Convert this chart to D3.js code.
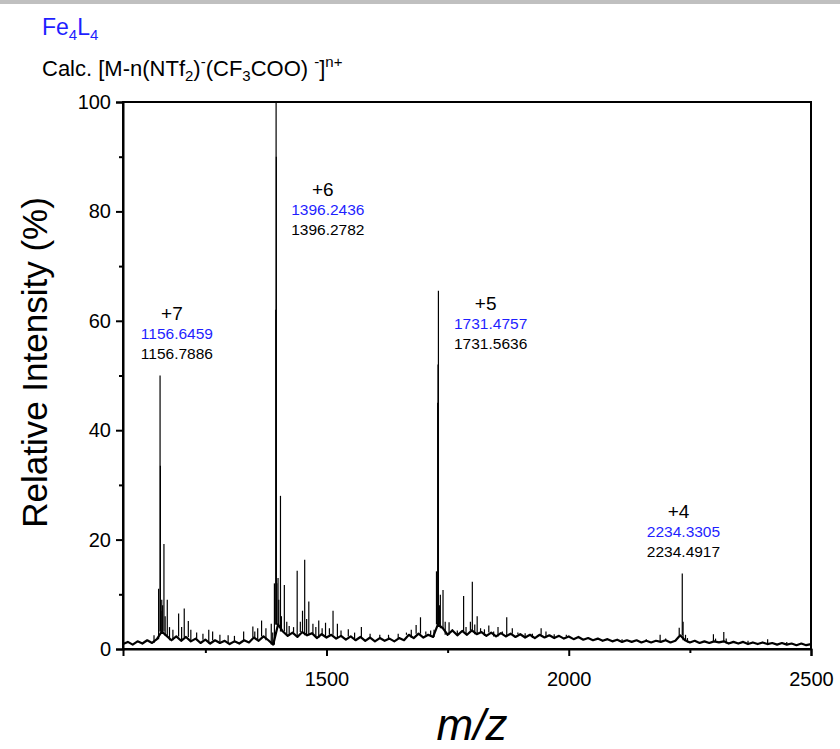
<!DOCTYPE html>
<html>
<head>
<meta charset="utf-8">
<script src="https://cdn.jsdelivr.net/npm/d3@7"></script>
<style>
  body { margin: 0; background: #fff; }
  text { font-family: 'Liberation Sans', Arial, sans-serif; }
</style>
</head>
<body>
<div id="chart"></div>
<script>
// baseline (noise floor) sampled every 10 m/z from 1080 to 2500, in %
const baseMz = d3.range(1080, 2501, 10);
const baseInt = [
  0.9, 1.3, 0.8, 1.4, 1.0, 1.6, 1.1, 1.8, 3.2, 2.4,
  1.6, 2.3, 1.5, 2.2, 1.4, 1.9, 1.1, 1.7, 1.0, 1.6,
  1.1, 1.5, 0.9, 1.4, 1.0, 1.6, 1.2, 2.1, 1.5, 2.3,
  1.6, 0.8, 4.5, 3.2, 2.4, 3.0, 2.2, 3.1, 2.5, 2.9,
  2.0, 2.7, 2.1, 2.6, 1.9, 2.4, 1.7, 2.3, 1.6, 2.2,
  1.5, 2.1, 1.4, 2.0, 1.5, 1.9, 1.4, 2.0, 1.6, 2.6,
  2.0, 2.8, 2.1, 2.6, 2.2, 4.5, 3.8, 2.6, 3.4, 2.5,
  3.3, 2.6, 3.4, 2.7, 3.1, 2.4, 3.0, 2.3, 2.9, 2.3,
  2.8, 2.2, 2.7, 2.1, 2.6, 2.0, 2.6, 2.1, 2.5, 2.0,
  2.4, 1.9, 2.3, 1.8, 2.2, 1.7, 2.0, 1.6, 1.9, 1.5,
  1.8, 1.4, 1.7, 1.3, 1.6, 1.3, 1.6, 1.2, 1.5, 1.2,
  1.5, 1.3, 1.6, 1.2, 1.5, 2.5, 1.6, 1.2, 1.5, 1.1,
  1.4, 1.1, 1.4, 1.2, 1.4, 1.0, 1.3, 1.0, 1.3, 0.9,
  1.2, 0.9, 1.2, 0.9, 1.1, 0.8, 1.1, 0.8, 1.0, 0.7,
  1.0, 0.7, 0.9
];

// peaks: m/z and relative intensity (%)
const peakMz = [
  1144, 1153.5, 1156.5, 1157.2, 1158.5, 1160, 1161.8, 1164.5, 1167, 1171.4,
  1176, 1183, 1194.8, 1201, 1206.4, 1214.8, 1220, 1232, 1245, 1257,
  1265, 1280, 1297, 1310, 1329, 1348, 1352, 1358, 1366, 1375,
  1386, 1389, 1392.5, 1395.4, 1396.0, 1396.5, 1397.5, 1400, 1401.5, 1405,
  1407, 1413, 1418, 1423, 1432, 1439.5, 1446, 1450.5, 1455, 1459,
  1463.5, 1472, 1478, 1484, 1491, 1498, 1506, 1513.5, 1522.5, 1530,
  1545, 1558, 1572, 1590, 1610, 1628, 1648, 1665, 1675, 1685,
  1694, 1705, 1715, 1722, 1727, 1729.5, 1730.2, 1731, 1733, 1735,
  1740.5, 1745, 1753, 1760, 1770, 1783, 1788, 1797, 1801, 1806,
  1811, 1818, 1826, 1835, 1845, 1854, 1863, 1872, 1883.5, 1895,
  1910, 1925, 1943, 1953, 1970, 1995, 2020, 2060, 2110, 2160,
  2188.6, 2200, 2228, 2234.3, 2236, 2241, 2245, 2298.6, 2303, 2320,
  2325, 2370, 2410.5, 2450
];
const peakInt = [
  2.5, 11, 50, 33.5, 7, 9, 8, 19.2, 6, 9,
  4, 3.5, 6.5, 4, 7.4, 5.1, 3.5, 3, 2.8, 3.5,
  3.2, 2.6, 2.5, 2.4, 3.2, 4.1, 3.2, 3.8, 5.2, 3.8,
  4.6, 3, 12, 62, 100, 90, 12, 13, 9, 28,
  6, 11.7, 5, 4.2, 4, 14.3, 5, 7, 16.3, 5.5,
  8.7, 4.6, 4, 5.2, 3.8, 4.8, 3.8, 7, 4.6, 3.4,
  3.6, 3, 4, 2.8, 2.6, 2.6, 2.8, 3, 3.5, 4.4,
  5.8, 3.2, 3.4, 3.5, 14.2, 45, 52, 65.5, 8, 9.9,
  10.8, 5, 4.9, 3.6, 3.4, 9.7, 4, 5, 12.3, 4.5,
  6, 3.8, 3.6, 4.3, 3.2, 4, 3.2, 5.8, 3.8, 3,
  2.9, 2.8, 3.8, 3.2, 2.7, 2.6, 2.2, 2.0, 1.8, 1.8,
  2.6, 1.9, 3.9, 13.8, 5, 2.6, 2.0, 2.7, 1.9, 3.1,
  1.9, 1.5, 1.8, 1.3
];

// peak labels
const charges = ['+7', '+6', '+5', '+4'];
const calcMz = ['1156.6459', '1396.2436', '1731.4757', '2234.3305'];
const foundMz = ['1156.7886', '1396.2782', '1731.5636', '2234.4917'];
const labelMz = [1181, 1492.5, 1828.5, 2226.5];
const labelInt = [59.6, 82.2, 61.4, 23.4];

const xTicks = [1500, 2000, 2500];
const xMinor = [1250, 1750, 2250];
const yTicks = [0, 20, 40, 60, 80, 100];
const yMinor = [10, 30, 50, 70, 90];

const BLUE = '#1f1fff';

const render = () => {
  const width = 840;
  const height = 749;
  const margin = { top: 102, right: 29, bottom: 100, left: 123 };
  const innerWidth = width - margin.left - margin.right;
  const innerHeight = height - margin.top - margin.bottom;

  const svg = d3
    .select('#chart')
    .append('svg')
    .attr('width', width)
    .attr('height', height);

  // grey strip at the very top
  svg.append('rect').attr('x', 0).attr('y', 0).attr('width', width).attr('height', 4).attr('fill', '#c0c0c0');

  const xScale = d3.scaleLinear().domain([1080, 2500]).range([0, innerWidth]);
  const yScale = d3.scaleLinear().domain([0, 100]).range([innerHeight, 0]);

  const g = svg.append('g').attr('transform', `translate(${margin.left},${margin.top})`);

  // spectrum: noise floor
  const line = d3
    .line()
    .x((d) => xScale(d[0]))
    .y((d) => yScale(d[1]));

  g.append('path')
    .datum(baseMz.map((m, i) => [m, baseInt[i]]))
    .attr('fill', 'none')
    .attr('stroke', '#000')
    .attr('stroke-width', 2.2)
    .attr('stroke-linejoin', 'round')
    .attr('d', line);

  // spectrum: peaks as sticks rising from the noise floor
  const peaks = peakMz.map((m, i) => {
    const j = d3.bisectCenter(baseMz, m);
    return { mz: m, int: peakInt[i], base: baseInt[j] };
  });

  g.selectAll('.peak')
    .data(peaks)
    .enter()
    .append('line')
    .attr('class', 'peak')
    .attr('x1', (d) => xScale(d.mz))
    .attr('x2', (d) => xScale(d.mz))
    .attr('y1', (d) => yScale(d.base))
    .attr('y2', (d) => yScale(d.int))
    .attr('stroke', '#000')
    .attr('stroke-width', 1.2);

  // frame
  g.append('rect')
    .attr('x', 0)
    .attr('y', 0)
    .attr('width', innerWidth)
    .attr('height', innerHeight)
    .attr('fill', 'none')
    .attr('stroke', '#000')
    .attr('stroke-width', 2);

  // x axis
  const xAxis = g
    .append('g')
    .attr('transform', `translate(0,${innerHeight})`)
    .call(d3.axisBottom(xScale).tickValues(xTicks).tickSize(7).tickPadding(16).tickFormat(d3.format('d')));
  g.append('g')
    .attr('transform', `translate(0,${innerHeight})`)
    .call(d3.axisBottom(xScale).tickValues(xMinor).tickSize(4).tickFormat(''))
    .call((s) => s.select('.domain').remove());

  // y axis
  const yAxis = g
    .append('g')
    .call(d3.axisLeft(yScale).tickValues(yTicks).tickSize(7).tickPadding(5));
  g.append('g')
    .call(d3.axisLeft(yScale).tickValues(yMinor).tickSize(4).tickFormat(''))
    .call((s) => s.select('.domain').remove());

  g.selectAll('.tick line').attr('stroke', '#000').attr('stroke-width', 2);
  [xAxis, yAxis].forEach((a) => {
    a.select('.domain').attr('stroke', '#000').attr('stroke-width', 2);
    a.selectAll('text')
      .attr('fill', '#000')
      .style('font-family', "'Liberation Sans', Arial, sans-serif")
      .style('font-size', '20px');
  });

  // axis titles
  svg
    .append('text')
    .attr('transform', `translate(47,${margin.top + innerHeight / 2 - 13}) rotate(-90)`)
    .attr('text-anchor', 'middle')
    .style('font-size', '35px')
    .text('Relative Intensity (%)');

  svg
    .append('text')
    .attr('x', 472)
    .attr('y', 740)
    .attr('text-anchor', 'middle')
    .style('font-size', '44px')
    .style('font-style', 'italic')
    .text('m/z');

  // headings
  const h1 = svg.append('text').attr('x', 42).attr('y', 35).attr('fill', BLUE).style('font-size', '23px');
  h1.append('tspan').text('Fe');
  h1.append('tspan').attr('dy', 5).style('font-size', '15px').text('4');
  h1.append('tspan').attr('dy', -5).text('L');
  h1.append('tspan').attr('dy', 5).style('font-size', '15px').text('4');

  const h2 = svg.append('text').attr('x', 42).attr('y', 76).attr('fill', '#000').style('font-size', '22px');
  const parts = [
    ['Calc. [M-n(NTf', 0, 22],
    ['2', 5, 15],
    [')', -5, 22],
    ['-', -9, 15],
    ['(CF', 9, 22],
    ['3', 5, 15],
    ['COO) ', -5, 22],
    ['-', -9, 15],
    [']', 9, 22],
    ['n+', -9, 15]
  ];
  parts.forEach(([t, dy, fs]) => {
    h2.append('tspan').attr('dy', dy).style('font-size', `${fs}px`).text(t);
  });

  // peak annotations
  charges.forEach((c, i) => {
    const cx = xScale(labelMz[i]);
    const cy = yScale(labelInt[i]);
    const lg = g.append('g').attr('text-anchor', 'middle');
    lg.append('text').attr('x', cx).attr('y', cy - 3).style('font-size', '19px').text(c);
    lg.append('text').attr('x', cx + 5).attr('y', cy + 16).attr('fill', BLUE).style('font-size', '15.5px').text(calcMz[i]);
    lg.append('text').attr('x', cx + 5).attr('y', cy + 36).attr('fill', '#000').style('font-size', '15.5px').text(foundMz[i]);
  });
};

render();
</script>
</body>
</html>
